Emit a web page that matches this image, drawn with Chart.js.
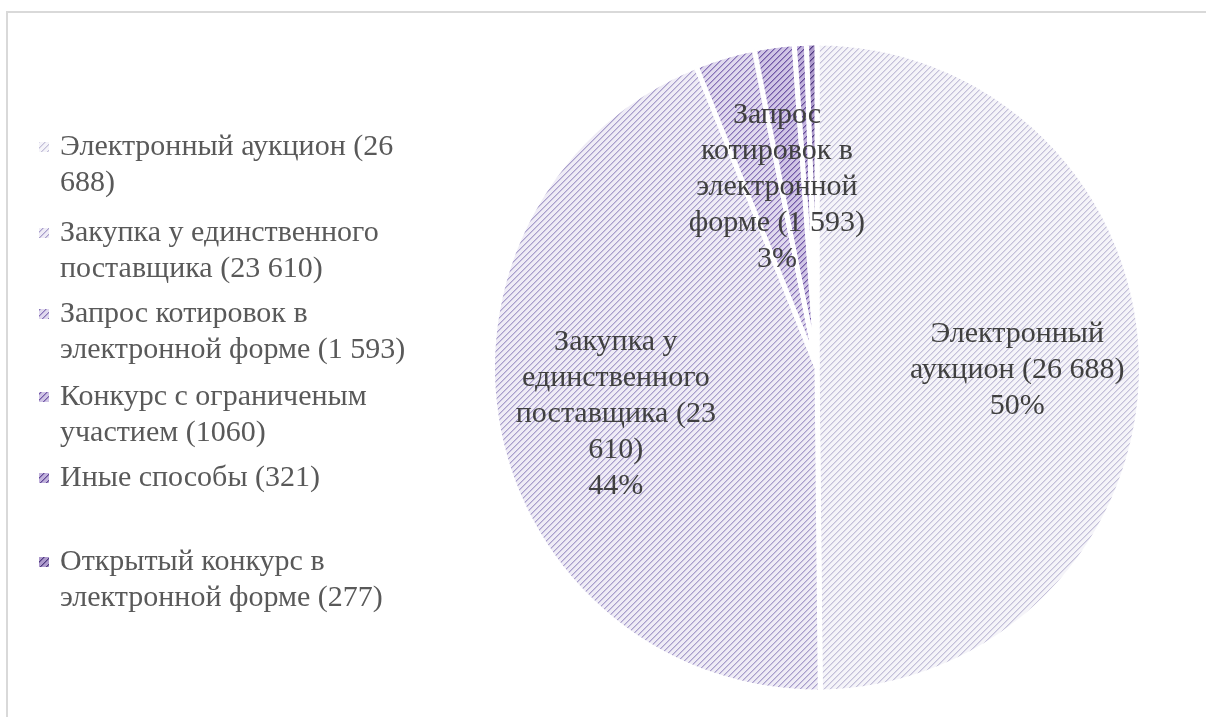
<!DOCTYPE html>
<html>
<head>
<meta charset="utf-8">
<script src="https://cdn.jsdelivr.net/npm/chart.js@4.4.1/dist/chart.umd.min.js"></script>
<style>
  html, body { margin: 0; padding: 0; background: #ffffff; }
  #wrap { position: relative; width: 1206px; height: 717px; overflow: hidden; }
  #frame { position: absolute; left: 6px; top: 11px; width: 1240px; height: 740px;
           border: 2px solid #d9d9d9; box-sizing: border-box; }
  #c { position: absolute; left: 0; top: 0; }
</style>
</head>
<body>
<div id="wrap">
  <div id="frame"></div>
  <canvas id="c" width="1206" height="717"></canvas>
</div>
<script>
// Procurement methods and number of purchases
const categories = [
  'Электронный аукцион (26 688)',
  'Закупка у единственного поставщика (23 610)',
  'Запрос котировок в электронной форме (1 593)',
  'Конкурс с ограниченым участием (1060)',
  'Иные способы (321)',
  'Открытый конкурс в электронной форме (277)'
];
const values = [26688, 23610, 1593, 1060, 321, 277];

// Legend text, broken into lines
const legendLines = [
  ['Электронный аукцион (26', '688)'],
  ['Закупка у единственного', 'поставщика (23 610)'],
  ['Запрос котировок в', 'электронной форме (1 593)'],
  ['Конкурс с ограниченым', 'участием (1060)'],
  ['Иные способы (321)'],
  ['Открытый конкурс в', 'электронной форме (277)']
];

// Category names shown inside the slices (null = no label)
const sliceNameLines = [
  ['Электронный', 'аукцион (26 688)'],
  ['Закупка у', 'единственного', 'поставщика (23', '610)'],
  ['Запрос', 'котировок в', 'электронной', 'форме (1 593)'],
  null, null, null
];

const canvas = document.getElementById('c');
const ctx = canvas.getContext('2d');

// Diagonal hatch fill: pale background with a pixel-stepped "/" line
function hatch(bg, fg, n) {
  const t = document.createElement('canvas');
  t.width = n; t.height = n;
  const g = t.getContext('2d');
  g.fillStyle = bg; g.fillRect(0, 0, n, n);
  g.fillStyle = fg;
  for (let y = 0; y < n; y++) {
    for (let x = 0; x < n; x++) {
      const k = (x + y) % n;
      if (k === 0) { g.globalAlpha = 1; g.fillRect(x, y, 1, 1); }
      else if (k === 1) { g.globalAlpha = 0.5; g.fillRect(x, y, 1, 1); }
    }
  }
  return ctx.createPattern(t, 'repeat');
}

const fills = [
  hatch('#f5f4f9', '#c4c0d9', 6),
  hatch('#efecf6', '#a99fcc', 6),
  hatch('#e0d9ee', '#8873b8', 6),
  hatch('#d0c5e5', '#7259a8', 6),
  hatch('#c1b2dc', '#624897', 6),
  hatch('#ae9bcd', '#4f3a80', 6)
];

// Legend on the left, drawn on the chart canvas
const sideLegend = {
  id: 'sideLegend',
  afterDraw(chart, args, opts) {
    const c = chart.ctx;
    c.save();
    c.font = opts.font;
    c.textBaseline = 'middle';
    c.textAlign = 'left';
    chart.data.labels.forEach((lab, i) => {
      const y0 = opts.itemY[i];
      c.fillStyle = chart.data.datasets[0].backgroundColor[i];
      c.fillRect(opts.boxX, y0 - opts.box / 2, opts.box, opts.box);
      c.fillStyle = opts.color;
      legendLines[i].forEach((ln, j) => {
        c.fillText(ln, opts.textX, y0 + j * opts.lineHeight);
      });
    });
    c.restore();
  }
};

// Category name and share drawn inside the large slices
const sliceLabels = {
  id: 'sliceLabels',
  afterDatasetsDraw(chart, args, opts) {
    const c = chart.ctx;
    const meta = chart.getDatasetMeta(0);
    const data = chart.data.datasets[0].data;
    const total = data.reduce((a, b) => a + b, 0);
    c.save();
    c.font = opts.font;
    c.fillStyle = opts.color;
    c.textAlign = 'center';
    c.textBaseline = 'middle';
    meta.data.forEach((arc, i) => {
      const names = sliceNameLines[i];
      if (!names) return;
      const lines = names.concat([Math.round(data[i] / total * 100) + '%']);
      const p = arc.tooltipPosition();
      const off = opts.offsets[i];
      const cx = p.x + off[0];
      const cy = p.y + off[1];
      const top = cy - (lines.length - 1) * opts.lineHeight / 2;
      lines.forEach((ln, j) => c.fillText(ln, cx, top + j * opts.lineHeight));
    });
    c.restore();
  }
};

new Chart(canvas, {
  type: 'pie',
  data: {
    labels: categories,
    datasets: [{
      data: values,
      backgroundColor: fills,
      borderColor: '#ffffff',
      borderWidth: 5
    }]
  },
  options: {
    responsive: false,
    animation: false,
    layout: { padding: { left: 490, right: 62, top: 40, bottom: 22 } },
    plugins: {
      legend: { display: false },
      tooltip: { enabled: false },
      sideLegend: {
        font: '30px "Liberation Serif", "Times New Roman", serif',
        color: '#595959',
        boxX: 39, box: 10, textX: 60, lineHeight: 36,
        itemY: [147, 233, 314, 397, 478, 562]
      },
      sliceLabels: {
        font: '30px "Liberation Serif", "Times New Roman", serif',
        color: '#404040',
        lineHeight: 36,
        offsets: [[38, 3], [-42, 15], [6, -25], [0, 0], [0, 0], [0, 0]]
      }
    }
  },
  plugins: [sideLegend, sliceLabels]
});
</script>
</body>
</html>
